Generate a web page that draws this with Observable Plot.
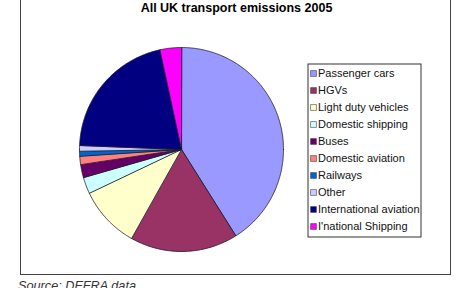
<!DOCTYPE html>
<html>
<head>
<meta charset="utf-8">
<script src="https://cdn.jsdelivr.net/npm/d3@7"></script>
<script src="https://cdn.jsdelivr.net/npm/@observablehq/plot@0.6"></script>
<style>
  html, body { margin: 0; padding: 0; background: #fff; }
  #wrap { position: relative; width: 469px; height: 288px; overflow: hidden; font-family: Arial, "Liberation Sans", sans-serif; }
  #box { position: absolute; left: 20px; top: -5px; width: 431px; height: 280px; box-sizing: border-box; border: 1px solid #444; }
  #title { position: absolute; left: 0; top: 1px; width: 473px; text-align: center; font-weight: bold; font-size: 12.5px; line-height: 15px; color: #000; }
  #caption { position: absolute; left: 18px; top: 279px; font-style: italic; font-size: 12.7px; line-height: 15px; color: #333; white-space: nowrap; }
  #pie { position: absolute; left: 0; top: 0; }
  #legend { position: absolute; left: 307px; top: 63px; background: #fff; }
</style>
</head>
<body>
<div id="wrap">
  <div id="box"></div>
  <div id="title">All UK transport emissions 2005</div>
  <div id="pie"></div>
  <div id="legend"></div>
  <div id="caption">Source: DEFRA data</div>
</div>
<script>
const categories = ["Passenger cars", "HGVs", "Light duty vehicles", "Domestic shipping", "Buses", "Domestic aviation", "Railways", "Other", "International aviation", "I'national Shipping"];
const shares = [41.1, 17.1, 9.8, 2.6, 2.1, 1.3, 0.8, 0.9, 21.0, 3.4];
const colors = ["#9999ff", "#993366", "#ffffcc", "#ccffff", "#660066", "#ff8080", "#0066cc", "#ccccff", "#000080", "#ff00ff"];

// slices as planar polygons (unit circle, angles clockwise from 12 o'clock)
const arcs = d3.pie().sort(null).value(d => d)(shares);
function slicePolygon(a0, a1) {
  const n = Math.max(2, Math.ceil((a1 - a0) / 0.01));
  const ring = [[0, 0]];
  for (let i = 0; i <= n; i++) {
    const a = a0 + (a1 - a0) * i / n;
    ring.push([Math.sin(a), Math.cos(a)]);
  }
  ring.push([0, 0]);
  return ring;
}
const slices = arcs.map((a, i) => ({
  type: "Feature",
  properties: {category: categories[i]},
  geometry: {type: "Polygon", coordinates: [slicePolygon(a.startAngle, a.endAngle)]}
}));
const circle = {type: "Polygon", coordinates: [slicePolygon(0, 2 * Math.PI).slice(1, -1).concat([[0, 1]])]};

const color = {type: "ordinal", domain: categories, range: colors};

const pie = Plot.plot({
  width: 469,
  height: 288,
  marginLeft: 79,
  marginRight: 186,
  marginTop: 47,
  marginBottom: 37,
  projection: {type: "reflect-y", domain: circle},
  color,
  style: {background: "transparent", overflow: "visible"},
  marks: [
    Plot.geo(slices, {fill: d => d.properties.category, stroke: "#1a1a2a", strokeWidth: 0.8, strokeLinejoin: "round"})
  ]
});
document.getElementById("pie").append(pie);

const legend = Plot.plot({
  width: 114,
  height: 174,
  margin: 0,
  y: {type: "point", domain: categories, range: [9.3, 164.3], padding: 0, axis: null},
  color,
  style: {background: "#fff", fontFamily: "Arial, 'Liberation Sans', sans-serif", fontSize: "11px", overflow: "visible"},
  marks: [
    Plot.frame({stroke: "#333", strokeWidth: 1, inset: 0.5}),
    Plot.dot(categories, {y: d => d, fill: d => d, symbol: "square", r: 3.3, stroke: "#444", strokeWidth: 0.6, frameAnchor: "left", dx: 6}),
    Plot.text(categories, {y: d => d, text: d => d, frameAnchor: "left", textAnchor: "start", dx: 10.5, fill: "#111"})
  ]
});
document.getElementById("legend").append(legend);
</script>
</body>
</html>
